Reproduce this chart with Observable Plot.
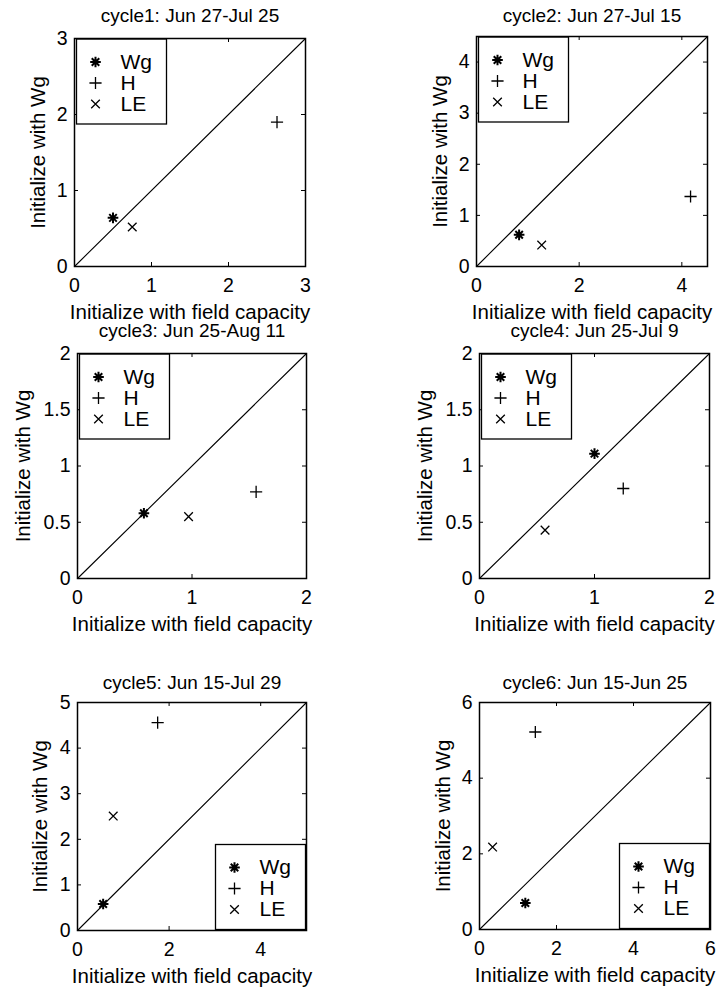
<!DOCTYPE html>
<html>
<head>
<meta charset="utf-8">
<script src="https://cdn.jsdelivr.net/npm/d3@7"></script>
<script src="https://cdn.jsdelivr.net/npm/@observablehq/plot@0.6"></script>
<style>
  html, body { margin: 0; padding: 0; background: white; }
  #chart { position: relative; width: 716px; height: 990px; background: white; overflow: hidden; }
  #chart svg { position: absolute; }
</style>
</head>
<body>
<div id="chart"></div>
<script>
// ---- data ----
const panelTitles = [
  "cycle1: Jun 27-Jul 25",
  "cycle2: Jun 27-Jul 15",
  "cycle3: Jun 25-Aug 11",
  "cycle4: Jun 25-Jul 9",
  "cycle5: Jun 15-Jul 29",
  "cycle6: Jun 15-Jun 25"
];
const xLabel = "Initialize with field capacity";
const yLabel = "Initialize with Wg";
const axisMax = [3, 4.5, 2, 2, 5, 6];
const xTicks = [[0, 1, 2, 3], [0, 2, 4], [0, 1, 2], [0, 1, 2], [0, 2, 4], [0, 2, 4, 6]];
const yTicks = [[0, 1, 2, 3], [0, 1, 2, 3, 4], [0, 0.5, 1, 1.5, 2], [0, 0.5, 1, 1.5, 2], [0, 1, 2, 3, 4, 5], [0, 2, 4, 6]];
const seriesNames = ["Wg", "H", "LE"];
const wgX = [0.50, 0.83, 0.58, 1.00, 0.56, 1.19];
const wgY = [0.64, 0.62, 0.58, 1.11, 0.58, 0.70];
const hX  = [2.63, 4.17, 1.56, 1.25, 1.75, 1.45];
const hY  = [1.90, 1.37, 0.77, 0.80, 4.56, 5.22];
const leX = [0.75, 1.27, 0.97, 0.57, 0.78, 0.34];
const leY = [0.52, 0.42, 0.55, 0.43, 2.51, 2.18];
const legendCorner = ["top-left", "top-left", "top-left", "top-left", "bottom-right", "bottom-right"];

// ---- layout (pixels) ----
const layout = [
  {left: 0,   top: 0,   w: 358, h: 330, ml: 74,  mr: 53, mt: 38, mb: 64, tdy: -23, ylab: -36},
  {left: 358, top: 0,   w: 358, h: 330, ml: 118, mr: 9,  mt: 36, mb: 64, tdy: -21, ylab: -36},
  {left: 0,   top: 305, w: 358, h: 345, ml: 77,  mr: 52, mt: 48, mb: 72, tdy: -23, ylab: -54},
  {left: 358, top: 305, w: 358, h: 345, ml: 121, mr: 7,  mt: 48, mb: 72, tdy: -23, ylab: -54},
  {left: 0,   top: 640, w: 358, h: 350, ml: 77,  mr: 52, mt: 62, mb: 60, tdy: -20, ylab: -37},
  {left: 358, top: 640, w: 358, h: 350, ml: 121, mr: 6,  mt: 62, mb: 61, tdy: -20, ylab: -36}
];

const fontFamily = "'Liberation Sans', Arial, Helvetica, sans-serif";

// 8-armed asterisk like MATLAB '*'
const asterisk8 = {
  draw(ctx, size) {
    const r = Math.sqrt(size) * 0.6;
    const d = r * Math.SQRT1_2;
    ctx.moveTo(-r, 0); ctx.lineTo(r, 0);
    ctx.moveTo(0, -r); ctx.lineTo(0, r);
    ctx.moveTo(-d, -d); ctx.lineTo(d, d);
    ctx.moveTo(-d, d); ctx.lineTo(d, -d);
  }
};
const symbolFor = {Wg: asterisk8, H: "plus", LE: "times"};
const rFor = {Wg: 5, H: 4, LE: 4};
const swFor = {Wg: 2, H: 1.3, LE: 1.3};

const container = document.getElementById("chart");

for (let i = 0; i < 6; i++) {
  const g = layout[i];
  const max = axisMax[i];
  const innerW = g.w - g.ml - g.mr;
  const innerH = g.h - g.mt - g.mb;
  const fmt = d => `${d}`;

  const points = [
    {name: "Wg", x: wgX[i], y: wgY[i]},
    {name: "H",  x: hX[i],  y: hY[i]},
    {name: "LE", x: leX[i], y: leY[i]}
  ];

  // legend box geometry relative to frame
  const bw = 90, bh = 85;
  let bx, by;
  if (legendCorner[i] === "top-left") { bx = 2; by = 0.5; }
  else { bx = innerW - 1 - bw; by = innerH - 1 - bh; }

  const legendMarks = [];
  legendMarks.push(Plot.frame({
    fill: "white", stroke: "black", strokeWidth: 1.3,
    insetLeft: bx, insetTop: by,
    insetRight: innerW - bx - bw, insetBottom: innerH - by - bh
  }));
  seriesNames.forEach((name, k) => {
    legendMarks.push(Plot.dot([name], {
      frameAnchor: "top-left", dx: bx + 19, dy: by + 23 + k * 21,
      symbol: symbolFor[name], r: rFor[name], stroke: "black", fill: "none", strokeWidth: swFor[name]
    }));
    legendMarks.push(Plot.text([name], {
      frameAnchor: "top-left", dx: bx + 44, dy: by + 23 + k * 21,
      text: d => d, textAnchor: "start", lineAnchor: "middle", fontSize: 21, fill: "black"
    }));
  });

  const plot = Plot.plot({
    width: g.w, height: g.h,
    marginLeft: g.ml, marginRight: g.mr, marginTop: g.mt, marginBottom: g.mb,
    x: {domain: [0, max], label: null},
    y: {domain: [0, max], label: null},
    style: {fontFamily, color: "black", background: "none", overflow: "visible"},
    marks: [
      // inward ticks on all four sides
      Plot.tickX(xTicks[i], {x: d => d, insetTop: innerH - 4, stroke: "black"}),
      Plot.tickX(xTicks[i], {x: d => d, insetBottom: innerH - 4, stroke: "black"}),
      Plot.tickY(yTicks[i], {y: d => d, insetRight: innerW - 4, stroke: "black"}),
      Plot.tickY(yTicks[i], {y: d => d, insetLeft: innerW - 4, stroke: "black"}),
      Plot.axisX({ticks: xTicks[i], tickSize: 0, tickPadding: 12, tickFormat: fmt, fontSize: 19.5, label: null, fill: "black"}),
      Plot.axisY({ticks: yTicks[i], tickSize: 0, tickPadding: 7, tickFormat: fmt, fontSize: 19.5, label: null, fill: "black"}),
      // 1:1 reference line
      Plot.line([0, max], {x: d => d, y: d => d, stroke: "black", strokeWidth: 1.1}),
      // data markers
      ...points.map(p => Plot.dot([p], {
        x: "x", y: "y", symbol: () => symbolFor[p.name], r: rFor[p.name],
        stroke: "black", fill: "none", strokeWidth: swFor[p.name]
      })),
      ...legendMarks,
      Plot.frame({stroke: "black", strokeWidth: 1.5}),
      // titles and axis labels
      Plot.text([panelTitles[i]], {frameAnchor: "top", dy: g.tdy, text: d => d, textAnchor: "middle", lineAnchor: "middle", fontSize: 19, fill: "black"}),
      Plot.text([xLabel], {frameAnchor: "bottom", dy: 46, text: d => d, textAnchor: "middle", lineAnchor: "middle", fontSize: 20.5, fill: "black"}),
      Plot.text([yLabel], {frameAnchor: "left", dx: g.ylab, rotate: -90, text: d => d, textAnchor: "middle", lineAnchor: "middle", fontSize: 20.5, fill: "black"})
    ]
  });
  plot.style.left = g.left + "px";
  plot.style.top = g.top + "px";
  container.appendChild(plot);
}
</script>
</body>
</html>
